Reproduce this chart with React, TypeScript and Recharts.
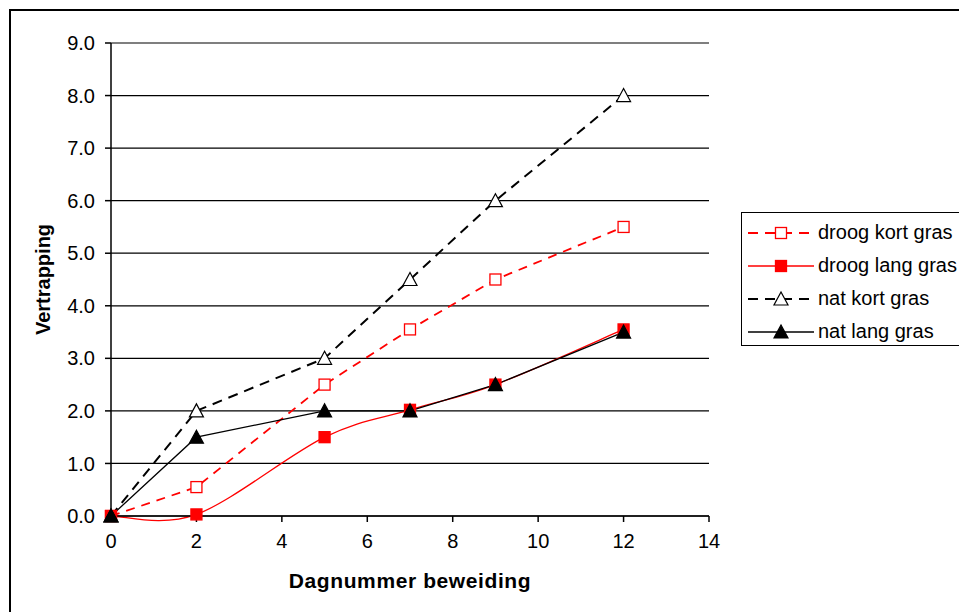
import React from 'react';
import { LineChart, Line, XAxis, YAxis, CartesianGrid } from 'recharts';

const days = [0, 2, 5, 7, 9, 12];
const droogKort = [0, 0.55, 2.5, 3.55, 4.5, 5.5];
const droogLang = [0, 0.03, 1.5, 2.02, 2.5, 3.55];
const natKort = [0, 2.0, 3.0, 4.5, 6.0, 8.0];
const natLang = [0, 1.5, 2.0, 2.0, 2.5, 3.5];

const xTicks = [0, 2, 4, 6, 8, 10, 12, 14];
const yTicks = [0, 1, 2, 3, 4, 5, 6, 7, 8, 9];

const data = days.map((d, i) => ({
  day: d,
  droogKort: droogKort[i],
  droogLang: droogLang[i],
  natKort: natKort[i],
  natLang: natLang[i],
}));

const font = '"Liberation Sans", Arial, sans-serif';

// smoothing like the spreadsheet tool (catmull-rom, 1/6 control points)
const smoothCurve = (context: any) => {
  let pts: number[][] = [];
  return {
    areaStart() {},
    areaEnd() {},
    lineStart() { pts = []; },
    lineEnd() {
      if (!pts.length) return;
      context.moveTo(pts[0][0], pts[0][1]);
      for (let i = 0; i < pts.length - 1; i++) {
        const p0 = pts[i - 1] || pts[i];
        const p1 = pts[i];
        const p2 = pts[i + 1];
        const p3 = pts[i + 2] || p2;
        context.bezierCurveTo(
          p1[0] + (p2[0] - p0[0]) / 6, p1[1] + (p2[1] - p0[1]) / 6,
          p2[0] - (p3[0] - p1[0]) / 6, p2[1] - (p3[1] - p1[1]) / 6,
          p2[0], p2[1]
        );
      }
    },
    point(x: number, y: number) { pts.push([+x, +y]); },
  };
};

const Square = ({ cx, cy, fill, stroke }: any) => (
  <rect x={cx - 5.5} y={cy - 5.5} width={11} height={11} fill={fill} stroke={stroke} strokeWidth={1.3} />
);
const Triangle = ({ cx, cy, fill }: any) => (
  <polygon
    points={`${cx},${cy - 7} ${cx - 7},${cy + 6} ${cx + 7},${cy + 6}`}
    fill={fill}
    stroke="#000"
    strokeWidth={1.2}
  />
);

const series = [
  { key: 'droogKort', name: 'droog kort gras', color: '#ff0000', dash: '9 7', width: 1.8, marker: 'sq', fill: '#fff', smooth: false },
  { key: 'droogLang', name: 'droog lang gras', color: '#ff0000', dash: undefined, width: 1.3, marker: 'sq', fill: '#ff0000', smooth: true },
  { key: 'natKort', name: 'nat kort gras', color: '#000000', dash: '10 7', width: 2, marker: 'tri', fill: '#fff', smooth: false },
  { key: 'natLang', name: 'nat lang gras', color: '#000000', dash: undefined, width: 1.3, marker: 'tri', fill: '#000', smooth: false },
];

const renderDot = (s: any) => (props: any) => {
  const { cx, cy, index } = props;
  return s.marker === 'sq'
    ? <Square key={index} cx={cx} cy={cy} fill={s.fill} stroke={s.color} />
    : <Triangle key={index} cx={cx} cy={cy} fill={s.fill} />;
};

const LegendBox = () => (
  <div style={{ position: 'absolute', left: 741, top: 212, width: 240, height: 134, border: '1.5px solid #000', background: '#fff', boxSizing: 'border-box', paddingTop: 3 }}>
    {series.map((s) => (
      <div key={s.key} style={{ display: 'flex', alignItems: 'center', height: 33 }}>
        <svg width={76} height={20} style={{ flex: 'none' }}>
          <line x1={6} y1={10} x2={72} y2={10} stroke={s.color} strokeWidth={s.dash ? 2 : 1.3} strokeDasharray={s.dash ? '10 7' : undefined} />
          {s.marker === 'sq'
            ? <Square cx={39} cy={10} fill={s.fill} stroke={s.color} />
            : <Triangle cx={39} cy={10} fill={s.fill} />}
        </svg>
        <span style={{ fontFamily: font, fontSize: 20, color: '#000', whiteSpace: 'nowrap' }}>{s.name}</span>
      </div>
    ))}
  </div>
);

export default function App() {
  return (
    <div style={{ position: 'fixed', left: 0, top: 0, width: 959, height: 612, overflow: 'hidden', background: '#fff' }}>
      <div style={{ position: 'absolute', left: 9, top: 9, width: 1000, height: 700, border: '2px solid #000', boxSizing: 'border-box' }} />
      <LineChart
        width={959}
        height={612}
        data={data}
        margin={{ top: 43, right: 250, bottom: 22, left: 21 }}
        style={{ fontFamily: font }}
      >
        <CartesianGrid vertical={false} stroke="#000" strokeWidth={1.2} />
        <XAxis
          dataKey="day"
          type="number"
          domain={[0, 14]}
          ticks={xTicks}
          height={74}
          tickSize={6}
          tickMargin={12}
          stroke="#000"
          strokeWidth={1.5}
          tick={{ fill: '#000', fontSize: 20 }}
          label={{ value: 'Dagnummer beweiding', position: 'insideBottom', offset: 2, fill: '#000', fontSize: 21, fontWeight: 'bold', style: { letterSpacing: 0.6 } }}
        />
        <YAxis
          type="number"
          domain={[0, 9]}
          ticks={yTicks}
          width={90}
          tickSize={6}
          tickMargin={10}
          stroke="#000"
          strokeWidth={1.5}
          tickFormatter={(v: number) => v.toFixed(1)}
          tick={{ fill: '#000', fontSize: 20 }}
          label={{ value: 'Vertrapping', angle: -90, position: 'insideLeft', offset: 22, fill: '#000', fontSize: 20, fontWeight: 'bold', style: { textAnchor: 'middle' } }}
        />
        {series.map((s) => (
          <Line
            key={s.key}
            dataKey={s.key}
            name={s.name}
            type={s.smooth ? (smoothCurve as any) : 'linear'}
            stroke={s.color}
            strokeWidth={s.width}
            strokeDasharray={s.dash}
            dot={renderDot(s)}
            activeDot={false}
            isAnimationActive={false}
          />
        ))}
      </LineChart>
      <LegendBox />
    </div>
  );
}
